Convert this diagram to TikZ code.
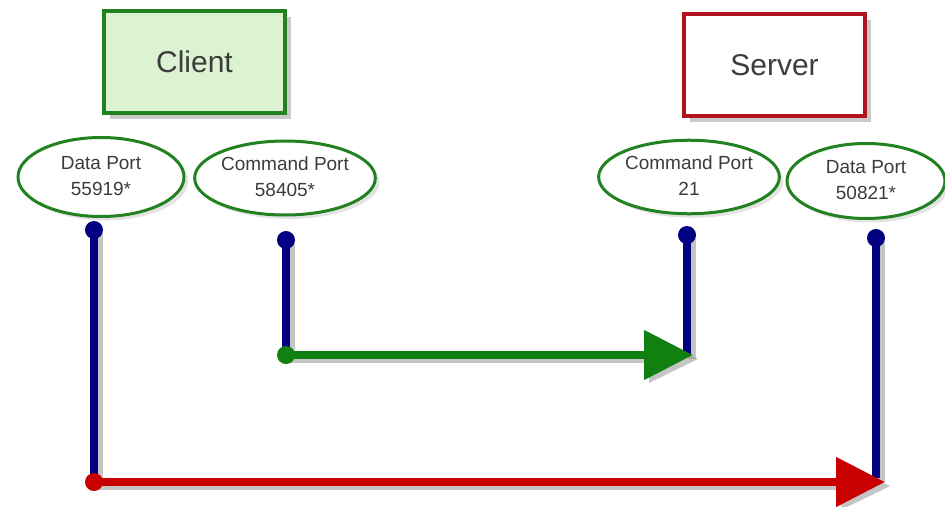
\documentclass[tikz,border=0pt]{standalone}
\usepackage{fontspec}
\setmainfont{Liberation Sans}
\usetikzlibrary{shapes.geometric,arrows.meta,shadows}
\definecolor{boxgreen}{RGB}{34,130,34}
\definecolor{clientfill}{RGB}{220,243,210}
\definecolor{srvred}{RGB}{176,20,28}
\definecolor{navyline}{RGB}{0,0,128}
\definecolor{arrgreen}{RGB}{16,128,16}
\definecolor{arrred}{RGB}{200,0,0}
\definecolor{txt}{RGB}{60,60,60}
\newcommand{\porttext}[2]{\raisebox{-5pt}{\begin{tabular}{@{}c@{}}#1\\#2\end{tabular}}}
\tikzset{
  hostbox/.style={draw, line width=4pt, minimum width=181pt, minimum height=102pt,
    font=\fontsize{30}{34}\selectfont, text=txt,
    drop shadow={shadow xshift=6pt, shadow yshift=-6pt, opacity=0.35, fill=black!60}},
  port/.style={ellipse, draw=boxgreen, line width=3pt, fill=white, align=center,
    inner sep=0pt, font=\fontsize{19}{26}\selectfont, text=txt,
    drop shadow={shadow xshift=4pt, shadow yshift=-4pt, opacity=0.18, fill=black!60}},
  dot/.style={circle, inner sep=0pt, minimum size=18pt},
  wire/.style={line width=8pt},
  wshadow/.style={line width=8pt, draw=black!45, opacity=0.5},
}
\begin{document}
\begin{tikzpicture}[x=1pt,y=-1pt]
\useasboundingbox (0,0) rectangle (945,506);
% host boxes
\node[hostbox, draw=boxgreen, fill=clientfill] (client) at (194.5,62) {Client};
\node[hostbox, draw=srvred, fill=white] (server) at (774.5,65) {Server};
% ports
\node[port, minimum width=166pt, minimum height=79pt] (cdata) at (101,177) {\porttext{Data Port}{55919*}};
\node[port, minimum width=168pt, minimum height=74pt] (ccmd) at (285,178) {\porttext{Command Port}{58405*}};
\node[port, minimum width=166pt, minimum height=73pt] (scmd) at (689,177) {\porttext{Command Port}{21}};
\node[port, minimum width=158pt, minimum height=75pt] (sdata) at (866,181) {\porttext{Data Port}{50821*}};
% dots and corner points
\coordinate (cdTop) at (94,230);
\coordinate (cdBot) at (94,482);
\coordinate (ccTop) at (286,240);
\coordinate (ccBot) at (286,355);
\coordinate (scTop) at (687,235);
\coordinate (scBot) at (687,355);
\coordinate (sdTop) at (876,238);
\coordinate (sdBot) at (876,478);
\coordinate (tipG) at (693,355);
\coordinate (tipR) at (885,482);
% shadows of lines
\draw[wshadow] ([shift={(5,4)}]cdTop) -- ([shift={(5,4)}]cdBot) -- ([shift={(-40,4)}]tipR);
\draw[wshadow] ([shift={(5,4)}]ccTop) -- ([shift={(5,4)}]ccBot) -- ([shift={(-40,4)}]tipG);
\draw[wshadow] ([shift={(5,4)}]scTop) -- ([shift={(5,4)}]scBot);
\draw[wshadow] ([shift={(5,4)}]sdTop) -- ([shift={(5,4)}]sdBot);
\fill[black!45, opacity=0.5] ([shift={(5,4)}]tipG) -- ++(-49,-24) -- ++(0,48) -- cycle;
\fill[black!45, opacity=0.5] ([shift={(5,4)}]tipR) -- ++(-49,-24) -- ++(0,48) -- cycle;
% vertical blue lines
\draw[wire, navyline] (cdTop) -- (cdBot);
\draw[wire, navyline] (ccTop) -- (ccBot);
\draw[wire, navyline] (scTop) -- (scBot);
\draw[wire, navyline] (sdTop) -- (sdBot);
% blue dots
\node[dot, fill=navyline] (d1) at (cdTop) {};
\node[dot, fill=navyline] (d2) at (ccTop) {};
\node[dot, fill=navyline] (d3) at (scTop) {};
\node[dot, fill=navyline] (d4) at (sdTop) {};
% arrows
\draw[wire, arrgreen, -{Triangle[length=49pt,width=48pt]}] (ccBot) -- (tipG);
\draw[wire, arrred, -{Triangle[length=49pt,width=48pt]}] (cdBot) -- (tipR);
\node[dot, fill=arrgreen] (g1) at (ccBot) {};
\node[dot, fill=arrred] (r1) at (cdBot) {};
\end{tikzpicture}
\end{document}
